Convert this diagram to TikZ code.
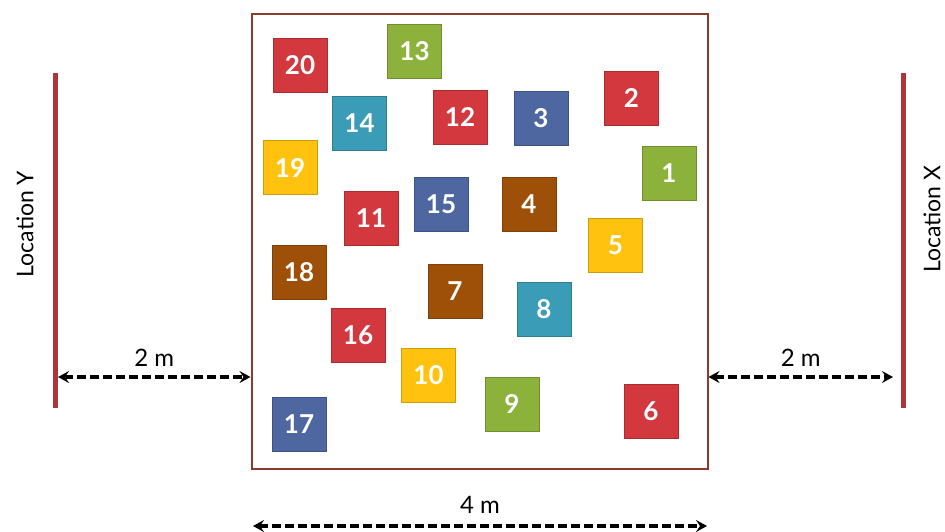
\documentclass[tikz,border=0pt]{standalone}
\usepackage{fontspec}
\setmainfont{Lato}
\usetikzlibrary{arrows.meta,positioning}
\definecolor{tred}{HTML}{D2383D}
\definecolor{tgreen}{HTML}{8CB23B}
\definecolor{tblue}{HTML}{4E67A1}
\definecolor{tteal}{HTML}{3A9CB6}
\definecolor{tyellow}{HTML}{FFC30F}
\definecolor{tbrown}{HTML}{9E5008}
\definecolor{wallred}{HTML}{B0323A}
\definecolor{boxbrown}{HTML}{8E3A2C}

\begin{document}
\begin{tikzpicture}[x=1pt, y=-1pt,
  tag/.style={draw=#1!80!black, fill=#1, line width=1pt, minimum size=54pt, inner sep=0pt,
    text=white, font=\fontsize{26}{26}\selectfont\bfseries},
  wall/.style={draw=wallred, line width=5pt},
  dim/.style={{Stealth[length=11pt,width=12pt,inset=4pt]}-{Stealth[length=11pt,width=12pt,inset=4pt]},
    dash pattern=on 9pt off 4pt, line width=3.5pt},
  lab/.style={font=\fontsize{24}{24}\selectfont},
  side/.style={font=\fontsize{23}{23}\selectfont, rotate=90}
]
\useasboundingbox (0,0) rectangle (945,531);
\node[draw=boxbrown, line width=2pt, minimum width=456pt, minimum height=455pt, inner sep=0pt] (field) at (479.5,241.5) {};

\node[tag=tred] (t20) at (300,65) {20};
\node[tag=tgreen] (t13) at (414.5,51.5) {13};
\node[tag=tteal] (t14) at (359.5,123) {14};
\node[tag=tred] (t12) at (460,117) {12};
\node[tag=tblue] (t3) at (541,118.5) {3};
\node[tag=tred] (t2) at (631.5,98) {2};
\node[tag=tyellow] (t19) at (290,167.5) {19};
\node[tag=tgreen] (t1) at (669,173.5) {1};
\node[tag=tred] (t11) at (371,218) {11};
\node[tag=tblue] (t15) at (441,204.5) {15};
\node[tag=tbrown] (t4) at (529,204.5) {4};
\node[tag=tyellow] (t5) at (615.5,245.5) {5};
\node[tag=tbrown] (t18) at (299,272.5) {18};
\node[tag=tbrown] (t7) at (455,291) {7};
\node[tag=tteal] (t8) at (544,309) {8};
\node[tag=tred] (t16) at (358,335) {16};
\node[tag=tyellow] (t10) at (428.5,375.5) {10};
\node[tag=tgreen] (t9) at (512,404) {9};
\node[tag=tred] (t6) at (651,411) {6};
\node[tag=tblue] (t17) at (299,424) {17};

% walls at both locations
\coordinate (ytop) at (55,73);
\coordinate (ybot) at (55,408);
\coordinate (xtop) at (903,73);
\coordinate (xbot) at (903,408);
\draw[wall] (ytop) -- (ybot);
\draw[wall] (xtop) -- (xbot);
\node[side] (locy) at (25,224) {Location Y};
\node[side] (locx) at (932,219) {Location X};

% distances
\coordinate (ly) at (58,377);
\coordinate (lx) at (893,377);
\draw[dim] (ly) -- node[lab, above=5pt] (dy) {2 m} (ly -| field.west);
\draw[dim] (field.east |- lx) -- node[lab, above=5pt] (dx) {2 m} (lx);
\coordinate (bl) at (253,526);
\coordinate (br) at (707,526);
\draw[dim] (bl) -- node[lab, above=7pt] (dw) {4 m} (br);
\end{tikzpicture}
\end{document}
